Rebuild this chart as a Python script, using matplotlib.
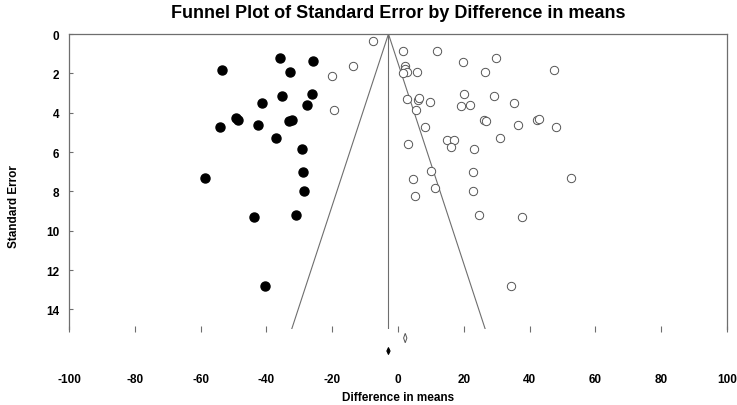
import matplotlib.pyplot as plt
from matplotlib.patches import Polygon

plt.rcParams["font.family"] = ["Liberation Sans", "DejaVu Sans"]

# observed studies (open circles): difference in means, standard error
obs_diff = [-7.5, -13.7, -20.1, -19.4, 1.6, 11.9, 19.7, 29.9, 47.4, 26.5,
            2.2, 2.0, 2.6, 1.6, 5.9, 20.0, 29.1, 2.8, 6.2, 6.4, 9.8, 35.3,
            19.1, 21.8, 5.6, 26.0, 26.8, 42.3, 42.9, 36.5, 48.1, 8.2, 31.1,
            15.0, 17.0, 16.0, 3.1, 23.1, 9.9, 22.8, 4.5, 11.3, 22.7, 52.7,
            5.3, 24.7, 37.6, 34.4]
obs_se = [0.34, 1.63, 2.15, 3.86, 0.85, 0.85, 1.41, 1.24, 1.81, 1.95,
          1.62, 1.80, 1.93, 1.98, 1.95, 3.07, 3.15, 3.29, 3.34, 3.27, 3.46, 3.51,
          3.68, 3.63, 3.86, 4.36, 4.41, 4.36, 4.31, 4.61, 4.71, 4.71, 5.29,
          5.37, 5.40, 5.73, 5.58, 5.85, 6.98, 7.03, 7.39, 7.83, 7.96, 7.32,
          8.25, 9.20, 9.29, 12.83]

# imputed studies (filled circles)
imp_diff = [-53.4, -36.0, -25.7, -32.7, -35.3, -26.0, -41.2, -27.8, -49.3,
            -48.5, -54.2, -42.6, -33.0, -32.1, -37.2, -29.1, -58.8, -29.0,
            -28.7, -43.8, -30.9, -40.4]
imp_se = [1.81, 1.24, 1.39, 1.95, 3.15, 3.07, 3.51, 3.63, 4.28,
          4.35, 4.71, 4.61, 4.41, 4.36, 5.29, 5.85, 7.34, 7.02,
          8.00, 9.29, 9.20, 12.83]

# combined estimates (observed / adjusted) with confidence limits
obs_est, obs_lo, obs_hi = 2.2, 1.7, 2.7
adj_est, adj_lo, adj_hi = -2.9, -3.4, -2.4
se_max = 15.0

x_ticks = list(range(-100, 101, 20))
y_ticks = list(range(0, 15, 2))

fig = plt.figure(figsize=(7.37, 4.06), dpi=100)
ax = fig.add_axes([69 / 737, 1 - 330 / 406, 658 / 737, 295 / 406])

grey = "#6e6e6e"

# funnel and centre line
ax.plot([adj_est - 1.96 * se_max, adj_est, adj_est + 1.96 * se_max],
        [se_max, 0, se_max], color=grey, lw=0.8)
ax.plot([adj_est, adj_est], [0, se_max], color=grey, lw=0.8)

ax.plot(obs_diff, obs_se, "o", ms=6, mfc="white", mec="#555555", mew=0.7)
ax.plot(imp_diff, imp_se, "o", ms=6.5, mfc="black", mec="black")

# diamonds below the axis
def diamond(est, lo, hi, yc, half_h, filled):
    pts = [(lo, yc), (est, yc - half_h), (hi, yc), (est, yc + half_h)]
    p = Polygon(pts, closed=True, clip_on=False, lw=0.7,
                facecolor="black" if filled else "white",
                edgecolor="black" if filled else "#555555")
    ax.add_patch(p)

diamond(obs_est, obs_lo, obs_hi, 15.46, 0.24, False)
diamond(adj_est, adj_lo, adj_hi, 16.12, 0.18, True)

ax.set_xlim(-100, 100)
ax.set_ylim(se_max, 0)
ax.set_xticks(x_ticks)
ax.set_yticks(y_ticks)
ax.set_xticklabels([str(v) for v in x_ticks], fontsize=8.5, fontweight="bold")
ax.set_yticklabels([str(v) for v in y_ticks], fontsize=8.5, fontweight="bold")
ax.tick_params(axis="x", direction="inout", length=4, color=grey, pad=30)
ax.tick_params(axis="y", direction="in", length=3, color=grey, pad=7)

ax.spines["bottom"].set_visible(False)
for s in ["top", "left", "right"]:
    ax.spines[s].set_color(grey)
    ax.spines[s].set_linewidth(0.9)

ax.set_xlabel("Difference in means", fontsize=8.5, fontweight="bold")
ax.xaxis.set_label_coords(0.5, -0.21)
ax.set_ylabel("Standard Error", fontsize=8.5, fontweight="bold")
ax.yaxis.set_label_coords(-0.075, 0.42)

fig.text(398 / 737, 1 - 13 / 406, "Funnel Plot of Standard Error by Difference in means",
         ha="center", va="center", fontsize=13, fontweight="bold")

fig.savefig("out.png", dpi=100)
